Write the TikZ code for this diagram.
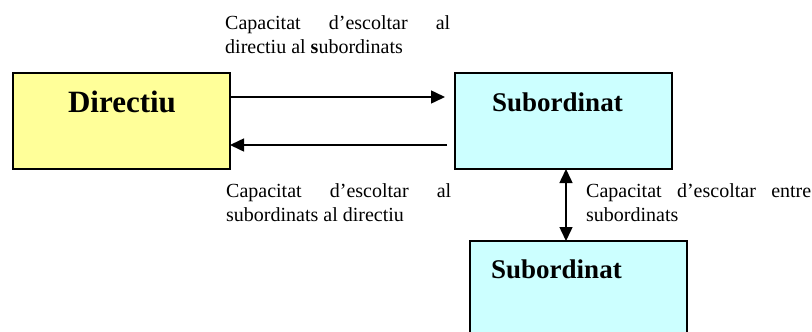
\documentclass[tikz,border=0pt]{standalone}
\usepackage{fontspec}
\setmainfont{Liberation Serif}
\usetikzlibrary{arrows.meta,calc}
\definecolor{dirfill}{RGB}{255,255,153}
\definecolor{subfill}{RGB}{204,255,255}
\tikzset{
  box/.style={draw=black, line width=1.6pt, rectangle, inner sep=0pt, outer sep=0pt,
    minimum width=217pt, minimum height=96pt},
  title/.style={inner sep=0pt, font=\fontsize{29}{34}\selectfont\bfseries},
  lbl/.style={inner sep=0pt, anchor=base west, font=\fontsize{20}{24}\selectfont},
  arr/.style={line width=1.5pt, -{Triangle[length=14pt,width=13pt]}},
  dblarr/.style={line width=1.5pt, {Triangle[length=14pt,width=13pt]}-{Triangle[length=14pt,width=13pt]}}
}
\newcommand{\twoline}[2]{\parbox[t]{225pt}{\hbox to\hsize{#1}\par\raggedright #2}}
\begin{document}
\begin{tikzpicture}[x=1pt, y=-1pt]
  \useasboundingbox (0,0) rectangle (812,332);
  \clip (0,0) rectangle (812,332);

  % boxes
  \node[box, fill=dirfill] (dir) at (121.5,121) {};
  \node[box, fill=subfill] (subA) at (563.5,121) {};
  \node[box, fill=subfill, anchor=north west] (subB) at (470,241) {};

  % box titles
  \node[title, font=\fontsize{31}{36}\selectfont\bfseries, anchor=base] (dirT) at (122,112) {Directiu};
  \node[title, font=\fontsize{27}{32}\selectfont\bfseries, anchor=base west] (subAT) at (492,111) {Subordinat};
  \node[title, font=\fontsize{27}{32}\selectfont\bfseries, anchor=base west] (subBT) at (491,278) {Subordinat};

  % connectors
  \draw[arr] ($(dir.east)+(0,-24)$) -- ($(subA.west)+(-10,-24)$);
  \draw[arr] ($(subA.west)+(-8,24)$) -- ($(dir.east)+(0,24)$);
  \coordinate (vtop) at ($(subA.south)+(2.5,0)$);
  \draw[dblarr] (vtop) -- (vtop |- subB.north);

  % labels
  \node[lbl] (lab1) at (225,30)
    {\twoline{Capacitat\hfill d’escoltar\hfill al}{directiu al \textbf{s}ubordinats}};
  \node[lbl] (lab2) at (226,197)
    {\twoline{Capacitat\hfill d’escoltar\hfill al}{subordinats al directiu}};
  \node[lbl] (lab3) at (586,197)
    {\twoline{Capacitat\hfill d’escoltar\hfill entre}{subordinats}};
\end{tikzpicture}
\end{document}
